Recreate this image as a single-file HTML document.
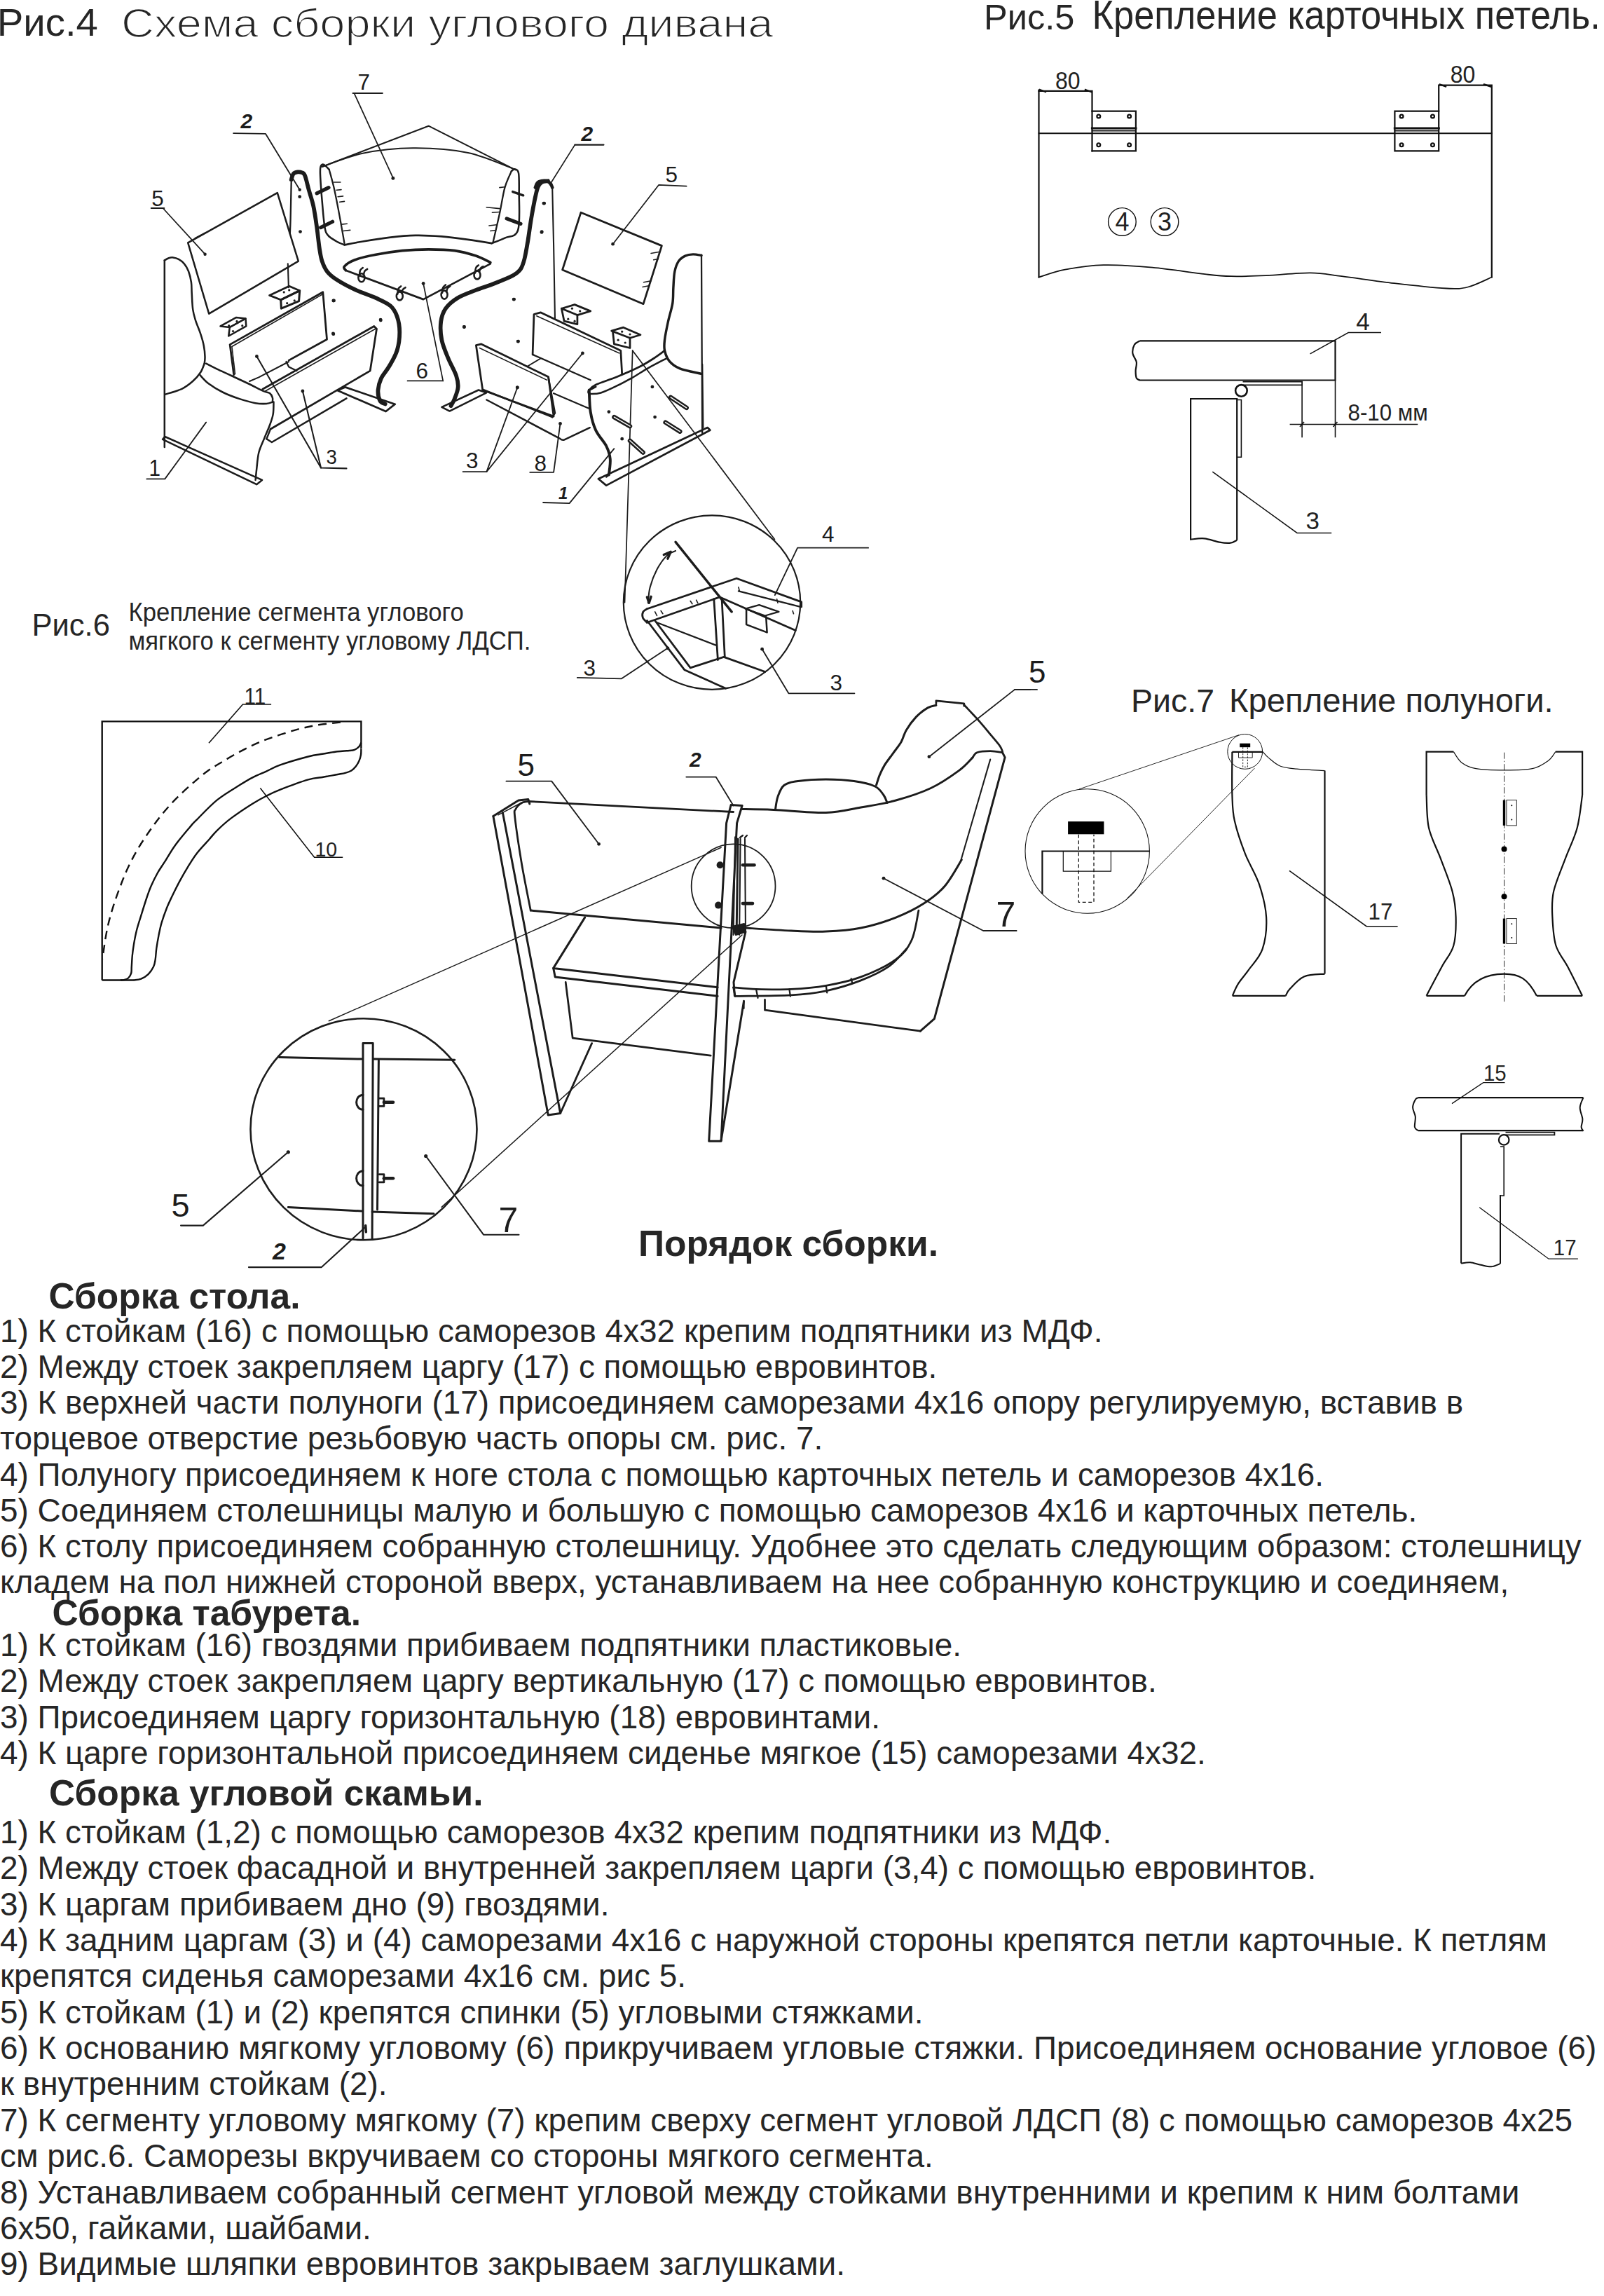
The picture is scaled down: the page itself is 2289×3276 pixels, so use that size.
<!DOCTYPE html>
<html><head><meta charset="utf-8"><style>
html,body{margin:0;padding:0;background:#fff;}
body{width:2289px;height:3276px;overflow:hidden;position:relative;}
svg{position:absolute;left:0;top:0;}
</style></head><body>
<svg width="2289" height="3276" viewBox="0 0 2289 3276" font-family='"Liberation Sans", sans-serif'>
<g fill="none" stroke="#1c1c1c" stroke-linejoin="round" stroke-linecap="round">
<path d="M234.8,371.4 V637.9" stroke-width="2.53"/>
<path d="M234.8,371.4 C235.8,370.8 238.7,368.9 240.8,368.2 C242.8,367.6 244.7,367.2 247.0,367.4 C249.4,367.7 252.3,368.4 254.9,369.8 C257.5,371.2 260.4,373.2 262.7,376.1 C265.1,378.9 267.3,382.6 269.0,387.0 C270.7,391.5 272.1,397.5 272.9,402.7 C273.7,407.9 273.3,411.9 273.7,418.4 C274.1,424.9 274.3,435.4 275.3,441.9 C276.2,448.4 277.4,451.8 279.2,457.6 C281.0,463.3 284.3,470.4 286.2,476.4 C288.2,482.4 289.9,488.2 290.9,493.7 C292.0,499.1 292.4,505.2 292.5,509.3 C292.6,513.5 291.9,517.2 291.7,518.7" stroke-width="2.53"/>
<path d="M291.7,518.7 C290.8,520.8 289.0,527.1 286.2,531.3 C283.5,535.5 279.7,539.9 275.3,543.8 C270.8,547.8 266.1,551.7 259.6,554.8 C253.0,557.9 240.0,561.3 236.1,562.6" stroke-width="2.53"/>
<path d="M294.1,518.7 C296.7,520.1 303.7,523.7 309.8,526.6 C315.8,529.5 322.3,532.3 330.1,536.0 C338.0,539.7 349.2,544.9 356.8,548.5 C364.4,552.2 370.9,555.9 375.6,557.9 C380.3,560.0 382.8,559.5 385.0,561.1 C387.2,562.6 388.3,565.3 388.9,567.4 C389.6,569.4 388.9,572.6 388.9,573.6" stroke-width="2.53"/>
<path d="M285.5,535.2 C287.4,537.2 291.9,542.9 297.2,547.0 C302.6,551.0 310.3,555.9 317.6,559.5 C324.9,563.2 333.3,566.3 341.1,568.9 C349.0,571.5 358.1,574.0 364.6,575.2 C371.2,576.4 376.3,576.2 380.3,576.0 C384.4,575.7 387.5,574.0 388.9,573.6" stroke-width="2.53"/>
<path d="M390.5,573.6 C390.4,576.5 390.6,585.4 389.7,590.9 C388.8,596.4 387.1,600.8 385.0,606.5 C382.9,612.3 379.8,618.8 377.2,625.4 C374.6,631.9 371.2,638.4 369.3,645.7 C367.5,653.1 367.0,662.7 366.2,669.3 C365.4,675.8 364.9,682.3 364.6,684.9" stroke-width="2.53"/>
<path d="M232.1,626.9 L235.3,623.0 L374.0,684.9 L366.2,691.2 Z" stroke-width="2.53"/>
<path d="M209.4,683.4 L235.3,683.4 L294.1,602.6" stroke-width="1.84"/>
<path d="M314.5,465.4 L337.2,452.9 L350.5,454.5 L327.8,467.0 Z" stroke-width="2.53"/>
<path d="M327.8,467.0 L350.5,454.5 L351.3,465.4 L326.2,479.5 Z" stroke-width="2.53"/>
</g>
<g fill="#1c1c1c">
<circle cx="326.7" cy="464.7" r="1.6"/>
<circle cx="338.0" cy="458.4" r="1.6"/>
<circle cx="332.5" cy="472.5" r="1.6"/>
<circle cx="345.8" cy="464.7" r="1.6"/>
<text transform="translate(212.5 678.7) scale(0.9 1)" font-size="33">1</text>
</g>
<g fill="none" stroke="#1c1c1c" stroke-linejoin="round" stroke-linecap="round">
<path d="M333.7,534.7 L328.1,491.6 L460.8,416.8 L466.5,484.2 L412.2,514.1" stroke-width="2.76"/>
<path d="M335.5,533.7 L330.9,494.5 L460.8,419.6" stroke-width="1.61"/>
<path d="M356.1,544.0 L369.2,538.4 L412.2,516.0" stroke-width="2.07"/>
<path d="M374.8,555.2 L533.8,465.5 L537.5,469.2 L528.2,529.1 L386.0,612.3" stroke-width="2.76"/>
<path d="M378.6,558.0 L535.7,469.2" stroke-width="1.61"/>
<path d="M380.4,626.3 L387.9,631.0 L494.5,568.3" stroke-width="2.53"/>
<path d="M386.0,612.3 L380.4,626.3" stroke-width="2.3"/>
<path d="M408.5,516.0 L412.2,523.4 L423.4,529.1" stroke-width="2.3"/>
<path d="M481.4,557.1 L550.6,587.0 L563.7,576.7 L492.6,552.4 Z" stroke-width="2.76"/>
<path d="M366.4,508.5 L458.0,667.5 L494.5,668.4" stroke-width="2.07"/>
<path d="M431.9,558.0 L458.0,667.5" stroke-width="2.07"/>
</g>
<g fill="#1c1c1c">
<circle cx="475.8" cy="429.0" r="2.4"/>
<circle cx="543.1" cy="456.1" r="2.4"/>
<circle cx="475.8" cy="476.7" r="2.4"/>
<circle cx="366.4" cy="508.5" r="2.4"/>
<circle cx="431.9" cy="558.0" r="2.4"/>
<text transform="translate(465.5 661.8) scale(0.95 1)" font-size="29">3</text>
</g>
<g fill="none" stroke="#1c1c1c" stroke-linejoin="round" stroke-linecap="round">
<path d="M503.5,133.0 L545.9,133.0" stroke-width="1.84"/>
<path d="M505.8,133.8 L560.9,253.9" stroke-width="1.72"/>
<path d="M333.1,190.1 L378.9,190.8 L427.7,270.8" stroke-width="1.84"/>
<path d="M215.7,297.0 L234.4,297.0" stroke-width="1.84"/>
<path d="M232.5,297.0 L292.6,362.7" stroke-width="1.72"/>
<path d="M268.2,346.4 L395.8,275.1 L425.8,372.6 L298.2,447.7 Z" stroke-width="2.53"/>
<path d="M278.3,339.6 L292.6,332.1" stroke-width="1.38"/>
<path d="M410.8,376.4 L411.9,410.2" stroke-width="2.07"/>
<path d="M384.5,421.4 L412.7,408.3 L427.7,414.7 L400.7,427.8 Z" stroke-width="2.76"/>
<path d="M400.7,427.8 L427.7,414.7 L426.6,429.7 L401.4,440.2 Z" stroke-width="2.99"/>
<path d="M413.8,333.6 C413.9,330.1 414.3,324.9 414.6,312.6 C414.9,300.3 415.5,268.8 415.7,260.0" stroke-width="2.3"/>
<path d="M415.7,256.3 C416.2,254.9 417.2,249.9 418.7,248.0 C420.2,246.2 422.7,245.7 424.7,245.4 C426.7,245.1 429.0,245.3 430.7,246.2 C432.5,247.0 433.5,246.5 435.2,250.7 C436.9,254.9 438.8,264.1 440.8,271.3 C442.8,278.5 445.3,285.1 447.2,293.8 C449.1,302.6 450.7,313.8 452.1,323.9 C453.5,333.9 454.6,345.7 455.8,353.9 C457.1,362.0 457.7,367.0 459.6,372.6 C461.5,378.3 463.7,383.3 467.1,387.7 C470.5,392.0 473.7,394.7 480.2,398.9 C486.8,403.2 497.1,408.8 506.5,413.2 C515.9,417.6 528.1,421.3 536.5,425.2 C545.0,429.1 552.2,432.1 557.2,436.4 C562.2,440.8 564.4,445.2 566.6,451.5 C568.8,457.7 570.3,465.8 570.3,474.0 C570.3,482.1 569.1,492.1 566.6,500.2 C564.1,508.4 559.1,516.2 555.3,522.8 C551.6,529.3 546.7,534.0 544.0,539.7 C541.4,545.3 539.9,551.2 539.5,556.5 C539.2,561.9 540.5,568.2 542.2,571.6 C543.9,574.9 548.4,575.6 549.7,576.4" stroke-width="5.75"/>
<path d="M459.6,237.9 L611.6,179.7 L735.5,242.4" stroke-width="2.07"/>
<path d="M459.6,237.9 C469.3,234.7 496.2,223.2 517.8,218.8 C539.4,214.3 564.1,211.4 589.1,211.3 C614.1,211.1 643.5,212.9 667.9,218.0 C692.3,223.1 724.2,238.0 735.5,242.0" stroke-width="2.07"/>
<path d="M491.5,349.4 C489.6,348.6 484.1,346.7 480.2,344.5 C476.4,342.2 471.0,339.3 468.2,335.9 C465.4,332.4 464.8,332.1 463.4,323.9 C461.9,315.6 460.7,298.8 459.6,286.3 C458.5,273.8 457.3,256.9 457.0,248.8 C456.7,240.7 456.8,239.8 457.7,237.5 C458.6,235.2 460.2,234.2 462.2,234.9 C464.2,235.7 468.5,240.8 469.7,242.0" stroke-width="2.53"/>
<path d="M469.7,242.0 C470.9,246.3 474.1,257.0 476.5,267.6 C478.9,278.1 481.5,291.8 484.0,305.1 C486.5,318.3 490.3,340.1 491.5,347.1" stroke-width="2.3"/>
<path d="M491.5,349.4 C495.9,348.6 507.1,346.2 517.8,344.5 C528.4,342.7 542.8,340.3 555.3,338.9 C567.8,337.4 580.3,336.1 592.8,335.9 C605.3,335.6 617.9,336.4 630.4,337.4 C642.9,338.4 656.0,340.2 667.9,341.9 C679.8,343.5 696.0,346.2 701.7,347.1" stroke-width="2.76"/>
<path d="M701.7,347.1 C704.8,345.9 714.2,342.7 720.4,339.6 C726.7,336.5 735.8,339.1 739.2,328.4 C742.6,317.6 740.6,288.6 740.7,275.1 C740.8,261.5 741.0,252.5 740.0,246.9 C739.0,241.3 736.4,241.7 734.7,241.3 C733.0,240.8 730.6,243.8 729.8,244.3" stroke-width="2.53"/>
<path d="M729.8,244.3 C728.3,248.2 723.3,257.4 720.4,267.6 C717.6,277.7 715.7,292.1 712.9,305.1 C710.1,318.1 705.1,338.9 703.6,345.6" stroke-width="2.3"/>
<path d="M452.1,275.8 L469.0,267.6" stroke-width="5.17"/>
<path d="M457.7,324.6 L474.6,316.3" stroke-width="5.17"/>
<path d="M723.1,311.8 L743.0,319.3" stroke-width="5.17"/>
<path d="M731.7,273.6 L746.7,278.8" stroke-width="3.45"/>
<path d="M476.5,260.0 L485.9,260.0" stroke-width="1.61"/>
<path d="M480.2,271.3 L487.0,270.6" stroke-width="1.61"/>
<path d="M482.1,280.7 L489.6,279.9" stroke-width="1.61"/>
<path d="M484.7,288.2 L491.5,287.4" stroke-width="1.61"/>
<path d="M487.0,320.1 L495.3,319.3" stroke-width="1.61"/>
<path d="M490.0,329.5 L499.8,328.4" stroke-width="1.61"/>
<path d="M712.9,267.6 L720.4,266.8" stroke-width="1.61"/>
<path d="M694.2,295.7 L712.9,297.6" stroke-width="1.61"/>
<path d="M702.4,303.2 L712.9,302.5" stroke-width="1.61"/>
<path d="M697.9,322.0 L708.4,320.8" stroke-width="1.61"/>
<path d="M699.8,329.5 L706.2,328.7" stroke-width="1.61"/>
<path d="M493.4,385.8 C493.1,384.8 489.3,382.6 491.5,380.1 C493.7,377.6 499.0,373.6 506.5,370.8 C514.0,367.9 525.3,365.4 536.5,363.3 C547.8,361.1 561.6,358.9 574.1,357.6 C586.6,356.4 599.1,355.8 611.6,355.8 C624.1,355.8 637.9,356.1 649.1,357.6 C660.4,359.2 670.7,362.3 679.2,365.1 C687.6,367.9 696.4,373.0 699.8,374.5" stroke-width="3.68"/>
<path d="M493.4,385.8 L604.1,427.1 L699.8,376.4" stroke-width="2.76"/>
<ellipse cx="515.9" cy="396.2" rx="4.5" ry="6" stroke-width="2.6"/>
<path d="M512.9,393.3 C513.1,392.0 513.2,387.7 514.0,385.8 C514.8,383.9 517.1,382.6 517.8,382.0" stroke-width="2.53"/>
<path d="M518.9,392.2 C519.2,391.3 519.5,388.3 520.4,386.9 C521.3,385.5 523.5,384.4 524.2,383.9" stroke-width="2.53"/>
<ellipse cx="570.3" cy="422.4" rx="4.5" ry="6" stroke-width="2.6"/>
<path d="M567.3,419.6 C567.5,418.3 567.6,413.9 568.4,412.0 C569.3,410.2 571.6,408.9 572.2,408.3" stroke-width="2.53"/>
<path d="M573.3,418.4 C573.6,417.6 573.9,414.5 574.8,413.2 C575.7,411.8 577.9,410.7 578.6,410.2" stroke-width="2.53"/>
<ellipse cx="634.1" cy="420.6" rx="4.5" ry="6" stroke-width="2.6"/>
<path d="M631.1,417.7 C631.3,416.4 631.4,412.0 632.2,410.2 C633.1,408.3 635.4,407.0 636.0,406.4" stroke-width="2.53"/>
<path d="M637.1,416.6 C637.4,415.7 637.7,412.7 638.6,411.3 C639.5,409.9 641.8,408.8 642.4,408.3" stroke-width="2.53"/>
<ellipse cx="681.0" cy="392.4" rx="4.5" ry="6" stroke-width="2.6"/>
<path d="M678.0,389.5 C678.2,388.3 678.3,383.9 679.2,382.0 C680.0,380.1 682.3,378.9 682.9,378.3" stroke-width="2.53"/>
<path d="M684.0,388.4 C684.3,387.5 684.7,384.5 685.5,383.1 C686.4,381.8 688.7,380.6 689.3,380.1" stroke-width="2.53"/>
<path d="M604.1,404.5 L632.2,543.4" stroke-width="1.72"/>
<path d="M581.6,543.4 L632.2,543.4" stroke-width="1.84"/>
<path d="M782.0,258.2 C780.5,258.5 775.4,258.5 773.0,260.0 C770.5,261.6 769.0,263.2 767.4,267.6 C765.7,271.9 764.4,278.8 762.8,286.3 C761.3,293.8 759.5,303.2 758.0,312.6 C756.4,322.0 755.0,333.2 753.5,342.6 C751.9,352.0 750.3,362.0 748.6,368.9 C746.8,375.8 745.8,379.8 743.0,383.9 C740.1,388.0 738.0,389.8 731.7,393.3 C725.4,396.7 714.2,401.1 705.4,404.5 C696.7,408.0 687.9,410.5 679.2,413.9 C670.4,417.4 660.1,420.8 652.9,425.2 C645.7,429.6 639.9,434.6 636.0,440.2 C632.1,445.8 630.2,451.5 629.2,459.0 C628.3,466.5 628.6,476.5 630.4,485.2 C632.1,494.0 636.3,503.1 639.7,511.5 C643.2,519.9 648.7,529.0 651.0,535.9 C653.3,542.8 654.1,547.2 653.6,552.8 C653.2,558.4 650.1,565.3 648.4,569.7 C646.7,574.1 644.3,577.5 643.5,579.1" stroke-width="5.75"/>
<path d="M630.4,580.9 L641.6,586.6 L694.2,560.3 L682.9,556.5 Z" stroke-width="2.53"/>
</g>
<circle cx="427.7" cy="280.7" r="2.4" fill="#1c1c1c" stroke="none"/>
<circle cx="428.5" cy="330.6" r="2.4" fill="#1c1c1c" stroke="none"/>
<circle cx="476.5" cy="428.9" r="2.4" fill="#1c1c1c" stroke="none"/>
<circle cx="543.3" cy="457.1" r="2.4" fill="#1c1c1c" stroke="none"/>
<circle cx="475.4" cy="475.8" r="2.4" fill="#1c1c1c" stroke="none"/>
<circle cx="776.7" cy="290.1" r="2.4" fill="#1c1c1c" stroke="none"/>
<circle cx="773.0" cy="331.4" r="2.4" fill="#1c1c1c" stroke="none"/>
<circle cx="733.6" cy="427.1" r="2.4" fill="#1c1c1c" stroke="none"/>
<circle cx="662.3" cy="466.5" r="2.4" fill="#1c1c1c" stroke="none"/>
<circle cx="739.2" cy="487.1" r="2.4" fill="#1c1c1c" stroke="none"/>
<circle cx="560.9" cy="254.4" r="2.4" fill="#1c1c1c" stroke="none"/>
<circle cx="604.1" cy="404.5" r="2.4" fill="#1c1c1c" stroke="none"/>
<circle cx="405.2" cy="416.9" r="1.6" fill="#1c1c1c" stroke="none"/>
<circle cx="412.7" cy="413.9" r="1.6" fill="#1c1c1c" stroke="none"/>
<circle cx="409.7" cy="432.7" r="1.6" fill="#1c1c1c" stroke="none"/>
<circle cx="420.2" cy="428.9" r="1.6" fill="#1c1c1c" stroke="none"/>
<circle cx="292.6" cy="362.7" r="2.2" fill="#1c1c1c" stroke="none"/>
<circle cx="560.9" cy="253.9" r="2.2" fill="#1c1c1c" stroke="none"/>
<circle cx="427.7" cy="270.8" r="2.2" fill="#1c1c1c" stroke="none"/>
<g fill="#1c1c1c">
<text x="510.5" y="128.1" font-size="31.5">7</text>
<text x="216.3" y="293.8" font-size="31.5">5</text>
<text x="593.5" y="539.6" font-size="31.5">6</text>
<text x="343.5" y="183.4" font-size="30" font-style="italic" font-weight="bold">2</text>
</g>
<g fill="none" stroke="#1c1c1c" stroke-linejoin="round" stroke-linecap="round">
<path d="M763.9,267.6 C764.4,266.4 765.5,262.4 766.9,260.8 C768.2,259.2 770.0,258.6 772.1,258.2 C774.2,257.7 777.4,257.5 779.6,258.2 C781.9,258.8 784.2,260.4 785.6,261.9 C787.1,263.5 787.8,266.6 788.2,267.6" stroke-width="4.6"/>
<path d="M788.2,267.6 L790.1,350.1 L792.0,455.2" stroke-width="2.07"/>
<path d="M820.4,206.6 H861.5" stroke-width="2.07"/>
<path d="M820.4,206.6 L784.5,263.7" stroke-width="1.72"/>
<path d="M829,303.2 L944.4,350.6 L918.1,433.7 L802.6,385 Z" stroke-width="2.76"/>
<path d="M874.6,348.2 L940.2,263.8 L979.7,265.7" stroke-width="1.72"/>
<path d="M929.0,361.4 L940.2,359.5" stroke-width="1.49"/>
<path d="M932.7,370.8 L939.5,369.6" stroke-width="1.49"/>
<path d="M918.5,402.7 L929.0,400.8" stroke-width="1.49"/>
<path d="M917.0,409.4 L927.1,407.5" stroke-width="1.49"/>
<path d="M1001.0,364.4 C999.0,364.1 992.9,362.8 989.0,362.9 C985.2,363.0 981.2,363.5 977.8,365.1 C974.3,366.8 970.9,368.9 968.4,372.6 C965.9,376.4 964.0,381.4 962.8,387.7 C961.5,393.9 961.4,402.7 960.9,410.2 C960.4,417.7 961.0,424.6 959.8,432.7 C958.5,440.8 955.3,450.2 953.4,459.0 C951.5,467.7 949.3,478.4 948.5,485.2 C947.7,492.1 947.4,495.2 948.5,500.2 C949.6,505.2 951.6,511.0 955.3,515.3 C958.9,519.5 962.8,522.8 970.3,525.8 C977.8,528.8 995.3,532.0 1000.3,533.3" stroke-width="3.45"/>
<path d="M1001.0,363.6 L1002.2,620.0" stroke-width="2.3"/>
<path d="M840.8,556.5 C842.4,555.3 843.6,552.2 850.2,549.0 C856.7,545.9 870.2,541.8 880.2,537.8 C890.2,533.7 901.5,529.0 910.2,524.6 C919.0,520.3 926.4,515.6 932.7,511.5 C939.1,507.4 945.9,502.1 948.5,500.2" stroke-width="2.76"/>
<path d="M801.4,440.2 L820.1,434.6 L842.7,443.9 L823.9,449.6 Z" stroke-width="2.76"/>
<path d="M801.4,440.2 L805.1,458.2 L823.9,462.7 L823.9,449.6" stroke-width="2.76"/>
<path d="M872.7,472.1 L889.6,467.2 L914.0,477.7 L899.0,482.2 Z" stroke-width="2.76"/>
<path d="M874.6,474.0 L876.4,490.9 L899.0,496.5 L899.0,482.2" stroke-width="2.76"/>
<path d="M760.1,505.9 L762.0,448.5 L771.4,445.8 L885.8,500.2 L887.7,534.0" stroke-width="2.76"/>
<path d="M765.7,450.7 L883.9,504.0" stroke-width="1.49"/>
<path d="M760.1,505.9 L842.7,542.3" stroke-width="2.3"/>
<path d="M688.8,556.5 L679.4,492.7 L686.9,490.9 L782.6,537.8 L790.1,594.1 L688.8,556.5" stroke-width="2.76"/>
<path d="M684.3,496.5 L780.7,542.3" stroke-width="1.49"/>
<path d="M752.6,522.8 L771.4,511.5" stroke-width="1.84"/>
<path d="M694.4,570.5 L799.2,625.9 Q802,628.5 805,627.6 L841.8,610.2" stroke-width="2.53"/>
<path d="M902.7,500.2 L891.5,859.7" stroke-width="1.72"/>
<path d="M902.7,500.2 L1105.4,769.6" stroke-width="1.72"/>
</g>
<circle cx="874.6" cy="348.2" r="2.4" fill="#1c1c1c" stroke="none"/>
<circle cx="738.3" cy="552.8" r="2.4" fill="#1c1c1c" stroke="none"/>
<circle cx="831.4" cy="504.0" r="2.4" fill="#1c1c1c" stroke="none"/>
<circle cx="775.9" cy="290.1" r="2.4" fill="#1c1c1c" stroke="none"/>
<circle cx="773.2" cy="330.6" r="2.4" fill="#1c1c1c" stroke="none"/>
<circle cx="733.1" cy="427.1" r="2.4" fill="#1c1c1c" stroke="none"/>
<circle cx="662.5" cy="466.5" r="2.4" fill="#1c1c1c" stroke="none"/>
<circle cx="739.5" cy="487.1" r="2.4" fill="#1c1c1c" stroke="none"/>
<circle cx="816.4" cy="440.2" r="1.6" fill="#1c1c1c" stroke="none"/>
<circle cx="827.7" cy="443.9" r="1.6" fill="#1c1c1c" stroke="none"/>
<circle cx="810.8" cy="455.2" r="1.6" fill="#1c1c1c" stroke="none"/>
<circle cx="820.1" cy="458.2" r="1.6" fill="#1c1c1c" stroke="none"/>
<circle cx="887.7" cy="473.2" r="1.6" fill="#1c1c1c" stroke="none"/>
<circle cx="899.0" cy="477.0" r="1.6" fill="#1c1c1c" stroke="none"/>
<circle cx="882.1" cy="485.2" r="1.6" fill="#1c1c1c" stroke="none"/>
<circle cx="892.2" cy="489.0" r="1.6" fill="#1c1c1c" stroke="none"/>
<g fill="#1c1c1c">
<text x="949.5" y="260" font-size="31.5">5</text>
<text x="829.5" y="200.9" font-size="30" font-style="italic" font-weight="bold">2</text>
</g>
<g fill="none" stroke="#1c1c1c" stroke-linejoin="round" stroke-linecap="round">
<path d="M840.8,557.5 C841.1,562.5 841.1,578.2 842.7,587.6 C844.2,596.9 846.4,605.7 850.2,613.8 C853.9,622.0 861.7,629.5 865.2,636.3 C868.6,643.2 870.2,648.2 870.8,655.1 C871.4,662.0 869.2,673.9 868.9,677.6" stroke-width="3.91"/>
<path d="M840.8,556.8 L850.2,551.9" stroke-width="2.76"/>
<path d="M840.2,556.0 C840.1,556.7 839.1,559.0 839.5,560.0 C839.9,561.0 839.4,561.9 842.4,562.0 C845.4,562.1 851.1,562.4 857.4,560.5 C863.6,558.6 872.4,554.3 879.9,550.7 C887.4,547.1 894.8,543.0 902.3,538.8 C909.8,534.6 916.7,529.8 924.7,525.3 C932.7,520.8 946.0,514.0 950.2,511.8" stroke-width="2.53"/>
<path d="M853.9,683.3 L865.2,692.6 L1013.4,613.8 L1009.7,610.1 Z" stroke-width="2.76"/>
<path d="M1002.2,520.0 L1003.3,610.1" stroke-width="2.3"/>
<path d="M868.9,677.6 L865.2,680.6" stroke-width="2.3"/>
<path d="M688.8,555.7 L788.2,595.1" stroke-width="2.53"/>
<path d="M788.2,595.1 L792.0,589.4 L782.6,538.8" stroke-width="2.53"/>
<path d="M790.1,561.3 L842.7,583.8" stroke-width="2.3"/>
<path d="M756.3,673.9 L790.1,673.9 L799.5,604.4" stroke-width="1.84"/>
<path d="M660.6,673.1 H694.4 L738.3,553" stroke-width="1.84"/>
<path d="M694.4,673.1 L831.4,504" stroke-width="1.72"/>
<path d="M775.1,717.0 L812.6,718.2 L876.4,640.1" stroke-width="1.84"/>
<path d="M957.1,566.9 L979.7,581.9" stroke-width="6.44"/>
<path d="M957.1,566.9 L979.7,581.9" stroke-width="1.4" stroke="#fff"/>
<path d="M876.4,595.1 L899.0,608.2" stroke-width="6.44"/>
<path d="M876.4,595.1 L899.0,608.2" stroke-width="1.4" stroke="#fff"/>
<path d="M949.6,602.6 L970.3,615.7" stroke-width="6.44"/>
<path d="M949.6,602.6 L970.3,615.7" stroke-width="1.4" stroke="#fff"/>
<path d="M899.0,628.8 L917.7,645.7" stroke-width="6.44"/>
<path d="M899.0,628.8 L917.7,645.7" stroke-width="1.4" stroke="#fff"/>
</g>
<circle cx="738.3" cy="553.0" r="2.4" fill="#1c1c1c" stroke="none"/>
<circle cx="799.5" cy="604.4" r="2.4" fill="#1c1c1c" stroke="none"/>
<circle cx="930.9" cy="551.9" r="2.4" fill="#1c1c1c" stroke="none"/>
<circle cx="868.9" cy="587.6" r="2.4" fill="#1c1c1c" stroke="none"/>
<circle cx="887.7" cy="626.2" r="2.4" fill="#1c1c1c" stroke="none"/>
<circle cx="934.6" cy="595.1" r="2.4" fill="#1c1c1c" stroke="none"/>
<g fill="#1c1c1c">
<text x="762.5" y="672" font-size="31.5">8</text>
<text x="665" y="668.2" font-size="31.5">3</text>
<text x="797" y="712" font-size="24" font-style="italic" font-weight="bold">1</text>
</g>
<g fill="none" stroke="#1c1c1c" stroke-linejoin="round" stroke-linecap="round">
<ellipse cx="1016" cy="859.6" rx="126.2" ry="124.2" stroke-width="2.2"/>
<path d="M924.8,860.3 C925.3,856.5 925.5,845.8 927.7,837.8 C929.8,829.9 933.5,820.1 937.5,812.6 C941.4,805.1 947.1,797.4 951.5,792.9 C955.9,788.5 962.0,787.1 964.1,785.9" stroke-width="2.07"/>
<path d="M964.1,773.3 L1044.1,872.9" stroke-width="3.45"/>
<path d="M923.4,888.3 C922.4,887.2 918.2,883.9 917.3,881.3 C916.3,878.7 916.8,875.0 917.8,872.9 C918.9,870.8 922.5,869.4 923.4,868.7" stroke-width="2.76"/>
<path d="M923.4,868.7 L1051.1,825.2 L1143.7,858.9 L1143.7,865.9" stroke-width="2.76"/>
<path d="M923.4,888.3 L1027.2,851.9 L1135.3,899.6" stroke-width="2.76"/>
<path d="M1053.9,843.4 L1142.3,865.9" stroke-width="2.3"/>
<path d="M1018.8,854.7 L1024.4,941.6" stroke-width="2.76"/>
<path d="M1030.1,854.7 L1034.3,937.4" stroke-width="2.76"/>
<path d="M923.4,885.5 L976.7,955.7 L1035.7,982.3" stroke-width="2.76"/>
<path d="M934.7,885.5 L985.2,952.9 L1032.9,937.4 L1091.8,958.5" stroke-width="2.76"/>
<path d="M937.5,888.3 L1021.6,920.6" stroke-width="2.3"/>
<path d="M1063.7,868.7 L1083.4,863.1 L1111.4,872.9 L1091.8,878.5 Z" stroke-width="2.3"/>
<path d="M1065.1,870.1 L1065.1,891.1 L1094.6,902.4 L1093.2,879.9" stroke-width="2.53"/>
<path d="M934.7,872.9 L937.5,878.5" stroke-width="1.61"/>
<path d="M943.1,871.5 L945.9,875.7" stroke-width="1.61"/>
<path d="M985.2,857.5 L988.0,861.7" stroke-width="1.61"/>
<path d="M993.6,856.1 L995.8,860.3" stroke-width="1.61"/>
<path d="M1053.9,837.8 L1055.3,843.4" stroke-width="1.61"/>
<path d="M1108.6,854.7 L1110.0,860.3" stroke-width="1.61"/>
<path d="M1131.1,871.5 L1132.5,875.7" stroke-width="1.61"/>
<path d="M923.4,851.9 L926.2,860.3 L929.1,851.3" stroke-width="3.45"/>
<path d="M947.3,791.5 L957.1,787.3 L952.9,797.2" stroke-width="3.45"/>
<path d="M823.8,966.9 L887.0,968.3 L952.9,924.8" stroke-width="1.84"/>
<path d="M1219.4,989.3 L1125.4,989.3 L1087.6,926.2" stroke-width="1.84"/>
<path d="M1239.1,781.7 L1138.1,781.7 L1105.8,849.1" stroke-width="1.84"/>
</g>
<circle cx="1087.6" cy="926.2" r="2.4" fill="#1c1c1c" stroke="none"/>
<circle cx="952.9" cy="924.8" r="2.4" fill="#1c1c1c" stroke="none"/>
<g fill="#1c1c1c">
<text x="832.5" y="964.1" font-size="31.5">3</text>
<text x="1184.5" y="985.1" font-size="31.5">3</text>
<text x="1173" y="773.3" font-size="31.5">4</text>
</g>
<g fill="none" stroke="#111" stroke-linecap="square">
<path d="M1482.5,128.6 V395.5" stroke-width="2.2"/>
<path d="M1482.5,129.9 H1558.5 V215.4" stroke-width="2.2"/>
<path d="M1558.5,158.6 H1620.9 V215.4 H1558.5" stroke-width="2.2"/>
<path d="M1558.5,183 H1620.9" stroke-width="3.2"/>
<path d="M1558.5,186.6 H1620.9" stroke-width="1.6"/>
<path d="M1482.5,190.2 H2128.8" stroke-width="2.0"/>
<path d="M1990.4,158.6 H2053.2 V215.4 H1990.4 Z" stroke-width="2.2"/>
<path d="M1990.4,183 H2053.2" stroke-width="3.2"/>
<path d="M1990.4,186.6 H2053.2" stroke-width="1.6"/>
<path d="M2053.2,158.6 V121.6 H2128.8 V395.5" stroke-width="2.2"/>
<path d="M1484,128 L1492,131 M1549,128 L1557,131 M2055,120.5 L2063,123.5 M2118,120.5 L2127,123.5" stroke-width="2.4"/>
<path d="M1482.5,395.5 C1488.7,393.7 1504.5,387.6 1519.9,384.7 C1535.3,381.8 1553.9,378.7 1574.7,378.2 C1595.5,377.7 1620.5,379.5 1644.6,381.7 C1668.7,383.9 1700.7,389.1 1719.4,391.2 C1738.1,393.3 1742.2,393.9 1756.8,394.2 C1771.3,394.5 1787.8,394.0 1806.7,393.2 C1825.6,392.4 1852.0,389.2 1870.0,389.4 C1888.0,389.6 1894.9,391.7 1914.8,394.2 C1934.7,396.7 1964.7,401.3 1989.6,404.2 C2014.5,407.1 2046.8,410.6 2064.4,411.5 C2082.0,412.4 2084.3,412.2 2095.0,409.5 C2105.7,406.8 2123.2,397.8 2128.8,395.5" stroke-width="1.8"/>
<circle cx="1567.8" cy="166" r="2.4" stroke-width="2.3"/>
<circle cx="1567.8" cy="206.7" r="2.4" stroke-width="2.3"/>
<circle cx="1611.6" cy="166" r="2.4" stroke-width="2.3"/>
<circle cx="1611.6" cy="206.7" r="2.4" stroke-width="2.3"/>
<circle cx="2000.1" cy="166" r="2.4" stroke-width="2.3"/>
<circle cx="2000.1" cy="206.7" r="2.4" stroke-width="2.3"/>
<circle cx="2044.5" cy="166" r="2.4" stroke-width="2.3"/>
<circle cx="2044.5" cy="206.7" r="2.4" stroke-width="2.3"/>
<circle cx="1601.4" cy="316.4" r="19.8" stroke-width="1.4"/>
<circle cx="1662" cy="316.4" r="19.8" stroke-width="1.4"/>
</g>
<g fill="#222" stroke="none">
<text transform="translate(1506 126.9) scale(0.9 1)" font-size="35.5">80</text>
<text transform="translate(2069.8 117.9) scale(0.9 1)" font-size="35.5">80</text>
<text x="1601.4" y="329.2" font-size="36" text-anchor="middle">4</text>
<text x="1662" y="329.2" font-size="36" text-anchor="middle">3</text>
</g>
<g fill="none" stroke="#111">
<path d="M1626.5,486.4 H1905.5 V542.5 H1626.5  C1625.7,542.0 1622.8,541.7 1621.8,539.5 C1620.8,537.3 1620.6,532.9 1620.6,529.1 C1620.6,525.3 1622.5,520.8 1621.8,516.6 C1621.1,512.5 1616.9,508.4 1616.4,504.2 C1615.9,500.0 1617.2,494.7 1618.9,491.7 C1620.6,488.7 1625.2,487.3 1626.5,486.4" stroke-width="2.2"/>
<path d="M1905.5,542.5 V624.2" stroke-width="1.6"/>
<path d="M1773.5,544.7 H1858.1 V549.4 H1773.5" stroke-width="1.8"/>
<circle cx="1771.4" cy="557.4" r="8.3" stroke-width="2.6"/>
<path d="M1858.1,549.4 V624.2" stroke-width="1.6"/>
<path d="M1840.6,605.5 H2023.3" stroke-width="1.6"/>
<path d="M1855,609 L1861,602 M1902.5,609 L1908.5,602" stroke-width="1.6"/>
<path d="M1765.2,770.7 V569 H1699.1 V769.7  C1702.3,769.5 1711.6,767.6 1718.5,768.3 C1725.4,768.9 1734.1,772.5 1740.3,773.6 C1746.5,774.7 1751.8,775.2 1755.9,774.7 C1760.1,774.2 1763.7,771.4 1765.2,770.7" stroke-width="2.2"/>
<path d="M1765.2,570.5 H1771.4 V652.2 H1765.2" stroke-width="1.6"/>
<path d="M1971,474.6 H1924.2 L1869.6,504.8" stroke-width="1.5"/>
<path d="M1900.2,760.4 H1851 L1730.3,673.1" stroke-width="1.5"/>
</g>
<g fill="#222">
<text transform="translate(1923.5 600.2) scale(0.92 1)" font-size="34">8-10 мм</text>
<text x="1935.2" y="471.4" font-size="35">4</text>
<text x="1863.4" y="755.1" font-size="35">3</text>
</g>
<g fill="none" stroke="#111">
<path d="M145.7,1398.5 V1029.4 H515.4 V1068" stroke-width="2.4"/>
<path d="M145.7,1398.5 H191" stroke-width="2.6"/>
<path d="M515.4,1059.6 C514.9,1060.5 513.6,1063.8 512.4,1065.3 C511.2,1066.8 509.5,1067.9 508.0,1068.8 C506.5,1069.7 505.8,1070.1 503.6,1070.5 C501.4,1070.9 498.5,1070.9 494.9,1071.2 C491.3,1071.5 486.2,1071.8 481.8,1072.3 C477.4,1072.8 472.3,1073.7 468.7,1074.3 C465.1,1074.9 464.8,1074.9 460.0,1075.8 C455.2,1076.7 449.9,1076.9 439.9,1079.5 C429.9,1082.1 410.0,1087.9 400.0,1091.4 C390.0,1094.9 386.7,1097.6 380.0,1100.6 C373.3,1103.6 366.3,1106.4 360.0,1109.6 C353.7,1112.8 350.7,1114.7 342.3,1120.0 C333.9,1125.3 320.3,1133.0 309.9,1141.4 C299.5,1149.8 286.5,1164.0 280.0,1170.4 C273.5,1176.8 276.1,1174.0 271.1,1180.0 C266.1,1186.0 255.9,1197.9 249.9,1206.2 C243.9,1214.5 239.1,1223.4 234.9,1229.9 C230.7,1236.5 228.1,1239.8 224.9,1245.5 C221.7,1251.2 218.1,1258.5 215.6,1264.2 C213.1,1270.0 212.1,1273.0 209.7,1280.0 C207.3,1287.0 203.8,1298.3 201.4,1306.1 C199.0,1313.9 196.8,1320.0 195.1,1327.0 C193.3,1334.0 191.9,1341.8 190.9,1347.9 C189.9,1354.0 189.3,1358.4 188.8,1363.6 C188.3,1368.8 188.1,1375.1 187.8,1379.3 C187.5,1383.5 188.0,1386.0 187.2,1388.7 C186.4,1391.4 184.8,1393.9 183.1,1395.5 C181.4,1397.1 179.2,1397.6 177.3,1398.1 C175.5,1398.6 172.9,1398.4 172.0,1398.5" stroke-width="2.4"/>
<path d="M515.4,1068.4 C515.3,1069.9 515.5,1074.2 515.0,1077.1 C514.5,1080.0 513.6,1083.1 512.4,1085.8 C511.2,1088.5 509.8,1090.9 508.0,1093.2 C506.2,1095.5 504.1,1097.8 501.5,1099.4 C498.9,1101.0 496.0,1101.9 492.7,1102.8 C489.4,1103.7 485.8,1104.2 481.8,1105.0 C477.8,1105.8 472.3,1106.7 468.7,1107.4 C465.1,1108.1 464.8,1108.2 460.0,1109.0 C455.2,1109.8 449.9,1109.5 439.9,1112.4 C429.9,1115.3 410.0,1122.7 400.0,1126.6 C390.0,1130.5 386.7,1132.3 380.0,1135.7 C373.3,1139.1 368.4,1141.6 360.0,1146.9 C351.6,1152.2 338.2,1161.1 329.9,1167.4 C321.5,1173.7 315.1,1179.8 309.9,1184.8 C304.7,1189.8 303.3,1192.3 298.5,1197.7 C293.7,1203.1 286.0,1211.0 281.0,1217.4 C276.0,1223.8 272.8,1229.3 268.6,1236.1 C264.5,1242.8 260.0,1250.6 256.1,1257.9 C252.2,1265.2 248.0,1273.7 245.0,1280.0 C242.0,1286.3 240.3,1289.6 237.9,1295.7 C235.5,1301.8 232.5,1310.1 230.6,1316.6 C228.7,1323.1 227.6,1328.8 226.4,1334.9 C225.2,1341.0 224.1,1347.5 223.3,1353.2 C222.5,1358.9 222.4,1364.6 221.7,1368.9 C221.0,1373.2 220.8,1375.8 219.1,1379.3 C217.4,1382.8 214.8,1386.9 211.8,1389.8 C208.9,1392.7 204.9,1395.1 201.4,1396.6 C197.9,1398.0 192.7,1398.2 190.9,1398.5" stroke-width="2.4"/>
<path d="M485.9,1030.6 C480.7,1031.2 464.5,1032.7 454.7,1034.3 C444.9,1035.9 436.6,1037.6 427.3,1040.0 C418.0,1042.4 408.0,1045.6 398.6,1048.7 C389.2,1051.8 380.0,1055.0 371.1,1058.7 C362.2,1062.4 353.7,1066.6 345.0,1071.1 C336.3,1075.6 327.3,1080.9 319.0,1085.9 C310.7,1090.9 302.8,1095.3 295.0,1101.0 C287.2,1106.7 279.8,1113.3 272.2,1120.0 C264.6,1126.7 256.8,1133.9 249.7,1141.2 C242.6,1148.5 236.0,1155.9 229.8,1163.6 C223.6,1171.3 217.9,1179.2 212.3,1187.3 C206.7,1195.4 201.1,1203.8 196.1,1212.3 C191.1,1220.8 186.6,1229.6 182.4,1238.5 C178.2,1247.4 174.7,1256.6 171.2,1265.9 C167.7,1275.2 164.1,1285.2 161.2,1294.6 C158.3,1303.9 155.8,1312.7 153.7,1322.0 C151.6,1331.3 149.9,1343.0 148.7,1350.7 C147.5,1358.4 146.9,1365.1 146.5,1368.0" stroke-width="2.4" stroke-dasharray="12,8"/>
<path d="M387.1,1005 H346.5 L298,1060.3" stroke-width="1.6"/>
<path d="M489.2,1223.2 H448.6 L371.4,1124.4" stroke-width="1.6"/>
</g>
<g fill="#222">
<text transform="translate(348.5 1004.5) scale(0.9 1)" font-size="33">11</text>
<text transform="translate(449.5 1221.8) scale(0.95 1)" font-size="30">10</text>
</g>
<g fill="none" stroke="#111">
<circle cx="1551.7" cy="1214.5" r="88.7" stroke-width="1.1"/>
<rect x="1524.1" y="1172.1" width="51.3" height="18.2" fill="#000" stroke="none"/>
<path d="M1539.3,1190.8 V1287.4 H1561 V1190.8" stroke-width="1.3" stroke-dasharray="5,3.5"/>
<path d="M1487.4,1275.6 V1214.5 H1640.5" stroke-width="2.2"/>
<path d="M1517.3,1214.5 V1243.2 H1585.4 V1214.5" stroke-width="1.2"/>
<circle cx="1776.7" cy="1072.4" r="24.9" stroke-width="1.0"/>
<rect x="1769.2" y="1060.7" width="15" height="5.5" fill="#000" stroke="none"/>
<path d="M1767.5,1072.9 V1081.1 H1787.2 V1072.9" stroke-width="0.9"/>
<path d="M1773.7,1066.2 V1094.3 H1780.4 V1066.2" stroke-width="0.9" stroke-dasharray="2.5,1.8"/>
<path d="M1539.8,1126 L1768,1048.7" stroke-width="0.9"/>
<path d="M1608.4,1281.9 L1790.4,1096.1" stroke-width="0.9"/>
<path d="M1758.4,1072.7 C1758.4,1083.0 1757.8,1117.8 1758.4,1134.2 C1759.0,1150.6 1758.7,1157.1 1761.8,1171.1 C1764.9,1185.1 1771.0,1203.1 1776.9,1218.2 C1782.8,1233.3 1792.0,1246.8 1797.0,1261.9 C1802.0,1277.0 1806.3,1293.5 1807.1,1308.9 C1807.9,1324.3 1805.8,1341.7 1801.6,1354.2 C1797.4,1366.7 1787.5,1375.8 1781.7,1384.1 C1775.9,1392.4 1770.5,1398.0 1766.7,1404.1 C1762.9,1410.2 1760.1,1418.0 1758.8,1420.8" stroke-width="2.2"/>
<path d="M1758.8,1420.8 H1834.7" stroke-width="2.2"/>
<path d="M1834.7,1420.8 C1835.7,1419.2 1836.3,1415.7 1840.7,1411.1 C1845.1,1406.5 1852.6,1397.0 1860.9,1393.4 C1869.2,1389.8 1885.6,1390.2 1890.5,1389.6" stroke-width="2.2"/>
<path d="M1890.5,1389.6 V1099.6" stroke-width="2.2"/>
<path d="M1758.4,1072.9 H1802.1" stroke-width="2.2"/>
<path d="M1802.1,1072.7 C1803.5,1074.2 1806.3,1078.0 1810.5,1081.4 C1814.7,1084.8 1820.6,1090.7 1827.3,1093.3 C1834.0,1095.9 1840.3,1096.2 1850.8,1097.2 C1861.3,1098.2 1883.9,1099.2 1890.5,1099.6" stroke-width="1.2"/>
<path d="M1994.6,1321.7 H1950 L1840,1242.4" stroke-width="1.6"/>
<path d="M2035.6,1134.2 V1072.7 H2074.3" stroke-width="2.2"/>
<path d="M2219.8,1072.7 H2258.1 V1134.2" stroke-width="2.2"/>
<path d="M2074.3,1072.7 C2076.2,1075.3 2080.7,1084.3 2086.0,1088.3 C2091.3,1092.3 2096.1,1094.9 2106.2,1096.7 C2116.3,1098.5 2133.1,1098.9 2146.5,1098.9 C2159.9,1098.9 2176.3,1099.0 2186.8,1096.7 C2197.3,1094.5 2203.9,1089.4 2209.4,1085.4 C2214.9,1081.4 2218.1,1074.8 2219.8,1072.7" stroke-width="1.2"/>
<path d="M2258.1,1134.2 C2256.9,1142.0 2254.7,1166.1 2250.7,1181.2 C2246.7,1196.3 2239.5,1209.8 2233.9,1224.9 C2228.3,1240.0 2220.2,1258.0 2217.1,1272.0 C2214.0,1286.0 2214.8,1296.0 2215.4,1308.9 C2216.0,1321.8 2216.8,1337.4 2220.4,1349.2 C2224.1,1361.0 2231.0,1367.6 2237.3,1379.5 C2243.6,1391.4 2254.6,1413.9 2258.1,1420.8" stroke-width="2.2"/>
<path d="M2035.6,1134.2 C2036.2,1142.0 2035.6,1166.1 2039.0,1181.2 C2042.4,1196.3 2050.2,1209.8 2055.8,1224.9 C2061.4,1240.0 2069.0,1258.0 2072.6,1272.0 C2076.2,1286.0 2077.3,1296.0 2077.6,1308.9 C2077.9,1321.8 2077.7,1337.4 2074.3,1349.2 C2071.0,1361.0 2063.9,1367.6 2057.5,1379.5 C2051.1,1391.4 2039.2,1413.9 2035.6,1420.8" stroke-width="2.2"/>
<path d="M2035.6,1420.8 H2090.1 M2192.9,1420.8 H2258.1" stroke-width="2.2"/>
<path d="M2090.1,1420.8 C2103,1396 2125,1389.6 2146.5,1389.6 C2168,1389.6 2180,1396 2192.9,1420.8" stroke-width="2.2"/>
<path d="M2146.5,1073.7 V1431.6" stroke-width="0.9" stroke-dasharray="9,3,1.5,3"/>
<rect x="2149.9" y="1141.6" width="14.4" height="36.3" stroke-width="0.9" fill="#fff"/>
<rect x="2144.8" y="1141.6" width="3.4" height="36.3" fill="#000" stroke="none"/>
<circle cx="2157.3" cy="1149.3" r="1" fill="#000" stroke="none"/>
<circle cx="2157.3" cy="1169.5" r="1" fill="#000" stroke="none"/>
<rect x="2149.9" y="1310.6" width="14.4" height="35.9" stroke-width="0.9" fill="#fff"/>
<rect x="2144.8" y="1310.6" width="3.4" height="35.9" fill="#000" stroke="none"/>
<circle cx="2157.3" cy="1318.3" r="1" fill="#000" stroke="none"/>
<circle cx="2157.3" cy="1338.1" r="1" fill="#000" stroke="none"/>
<circle cx="2146.5" cy="1211.5" r="4" fill="#000" stroke="none"/>
<circle cx="2146.5" cy="1279.3" r="4" fill="#000" stroke="none"/>
<path d="M2023.6,1566.2 H2259.4" stroke-width="2.2"/>
<path d="M2023.6,1613.2 H2259.4" stroke-width="2.2"/>
<path d="M2023.6,1613.2 C2022.8,1612.3 2019.5,1611.4 2018.9,1608.1 C2018.3,1604.8 2020.3,1597.8 2019.8,1593.2 C2019.3,1588.6 2016.1,1584.2 2016.1,1580.2 C2016.1,1576.2 2018.5,1571.3 2019.8,1569.0 C2021.0,1566.7 2023.0,1566.7 2023.6,1566.2" stroke-width="2.0"/>
<path d="M2259.4,1566.2 C2258.6,1568.5 2254.9,1575.1 2254.7,1580.2 C2254.5,1585.3 2258.1,1592.2 2258.4,1596.9 C2258.7,1601.6 2256.4,1605.3 2256.6,1608.1 C2256.8,1610.9 2258.9,1612.8 2259.4,1613.7" stroke-width="2.0"/>
<path d="M2148.5,1615.6 H2218.4 V1619.3 H2148.5" stroke-width="1.8"/>
<circle cx="2146.2" cy="1626.4" r="7.3" stroke-width="2.2"/>
<path d="M2141,1705 V1803" stroke-width="2.0"/>
<path d="M2085.1,1802.5 V1617.8 H2140" stroke-width="2.0"/>
<path d="M2085.1,1802.5 C2087.3,1802.3 2093.4,1800.9 2098.1,1801.3 C2102.8,1801.7 2108.0,1803.8 2113.0,1804.8 C2118.0,1805.8 2123.3,1807.6 2128.0,1807.3 C2132.7,1807.0 2138.8,1803.7 2141.0,1803.0" stroke-width="2.0"/>
<path d="M2141,1636 H2146.2 V1706 H2141" stroke-width="1.6"/>
<path d="M2147.5,1544.7 H2116.8 L2072,1574.6" stroke-width="1.3"/>
<path d="M2251.9,1796.2 H2210 L2111.2,1722.8" stroke-width="1.3"/>
</g>
<g fill="#222">
<text transform="translate(1952.5 1312.3) scale(0.95 1)" font-size="33">17</text>
<text transform="translate(2117 1541.9) scale(0.95 1)" font-size="31">15</text>
<text transform="translate(2216.8 1790.8) scale(0.95 1)" font-size="31">17</text>
</g>
<g fill="none" stroke="#1c1c1c" stroke-linejoin="round" stroke-linecap="round">
<path d="M703.9,1164.4 L782.2,1590.9 L799.7,1588.4 L717.4,1159.5" stroke-width="2.99"/>
<path d="M703.9,1164.4 L739.9,1142.0 L753.8,1140.5 L755.8,1147.0" stroke-width="2.99"/>
<path d="M710.9,1162.9 L743.8,1145.5" stroke-width="1.49"/>
<path d="M754.8,1143.5 C753.2,1143.8 748.0,1143.7 744.8,1145.5 C741.7,1147.3 737.5,1150.9 735.9,1154.5 C734.2,1158.0 733.4,1153.6 734.9,1166.9 C736.4,1180.2 741.1,1212.2 744.8,1234.3 C748.6,1256.3 755.2,1288.3 757.3,1299.1" stroke-width="2.76"/>
<path d="M754.8,1143.5 L1046.6,1158.5" stroke-width="2.76"/>
<path d="M757.3,1299.1 L1029.1,1324.0" stroke-width="2.99"/>
<path d="M834.6,1309.1 L789.7,1381.4 L1024.1,1408.8" stroke-width="2.99"/>
<path d="M789.7,1381.4 L792.2,1393.9 L1024.1,1421.3" stroke-width="2.99"/>
<path d="M807.2,1401.3 L817.2,1481.1 L1014.2,1506.1" stroke-width="2.76"/>
<path d="M844.6,1488.6 L799.7,1588.4" stroke-width="2.76"/>
<path d="M1043.1,1148.5 L1036.6,1174.4 L1011.7,1628.3 L1029.1,1628.3 L1051.6,1174.4 L1059.1,1149.5 L1043.1,1148.5" stroke-width="2.99"/>
<path d="M1061.5,1428.8 L1029.1,1627.3" stroke-width="2.99"/>
<path d="M1049.1,1194.4 L1046.6,1334.0" stroke-width="2.07"/>
<path d="M1056.6,1196.9 L1055.1,1334.0" stroke-width="2.07"/>
<path d="M1063.0,1196.9 L1064.0,1331.5" stroke-width="2.07"/>
<path d="M1059.1,1154.5 C1066.5,1154.6 1084.0,1154.6 1103.9,1155.5 C1123.9,1156.3 1158.0,1160.0 1178.8,1159.5 C1199.5,1158.9 1212.0,1154.9 1228.6,1152.0 C1245.3,1149.1 1261.9,1146.6 1278.5,1142.0 C1295.1,1137.4 1313.4,1131.6 1328.4,1124.5 C1343.3,1117.5 1358.3,1106.9 1368.3,1099.6 C1378.3,1092.3 1384.9,1083.8 1388.2,1080.6" stroke-width="2.99"/>
<path d="M1064.0,1324.0 C1074.8,1324.7 1109.8,1327.2 1128.9,1328.0 C1148.0,1328.9 1162.1,1329.7 1178.8,1329.0 C1195.4,1328.4 1212.0,1327.4 1228.6,1324.0 C1245.3,1320.7 1263.5,1314.9 1278.5,1309.1 C1293.5,1303.3 1306.8,1296.6 1318.4,1289.1 C1330.0,1281.6 1339.4,1274.6 1348.3,1264.2 C1357.3,1253.8 1368.3,1233.0 1372.3,1226.8" stroke-width="2.99"/>
<path d="M1388.2,1080.6 C1389.2,1079.5 1390.1,1075.2 1394.2,1073.7 C1398.4,1072.2 1407.1,1071.7 1413.2,1071.7 C1419.2,1071.7 1427.7,1073.3 1430.6,1073.7" stroke-width="2.76"/>
<path d="M1430.6,1073.7 L1434.1,1080.6 L1333.4,1453.7 L1313.4,1471.2" stroke-width="2.99"/>
<path d="M1413.2,1083.6 L1370.8,1229.3" stroke-width="2.07"/>
<path d="M1106.4,1155.5 C1107.0,1152.4 1107.8,1142.8 1109.9,1137.0 C1112.0,1131.2 1114.1,1124.3 1118.9,1120.5 C1123.7,1116.8 1128.9,1116.0 1138.9,1114.6 C1148.8,1113.2 1165.5,1112.1 1178.8,1112.1 C1192.1,1112.1 1207.0,1112.9 1218.7,1114.6 C1230.3,1116.2 1241.5,1118.7 1248.6,1122.0 C1255.6,1125.4 1258.1,1130.6 1261.0,1134.5 C1264.0,1138.4 1265.2,1143.7 1266.0,1145.5" stroke-width="2.99"/>
<path d="M1250.6,1120.0 C1251.4,1117.7 1253.3,1110.6 1255.3,1105.8 C1257.3,1101.1 1259.3,1096.7 1262.4,1091.6 C1265.6,1086.5 1270.3,1080.6 1274.3,1075.1 C1278.2,1069.5 1283.0,1064.0 1286.1,1058.5 C1289.3,1052.9 1289.7,1047.8 1293.2,1041.9 C1296.8,1036.0 1302.3,1028.3 1307.4,1022.9 C1312.6,1017.6 1319.3,1012.6 1324.0,1009.9 C1328.8,1007.1 1333.9,1006.9 1335.9,1006.3" stroke-width="2.99"/>
<path d="M1335.9,1003.8 L1335.9,999.9 L1375.8,1003.8 L1375.8,1007.3" stroke-width="2.76"/>
<path d="M1375.8,1005.8 C1379.5,1009.8 1391.6,1022.3 1398.2,1029.8 C1404.9,1037.3 1410.8,1044.9 1415.7,1050.7 C1420.5,1056.5 1424.6,1061.1 1427.1,1064.7 C1429.6,1068.3 1430.0,1070.9 1430.6,1072.2" stroke-width="2.76"/>
<path d="M1046.6,1408.8 C1052.0,1409.2 1065.3,1410.9 1079.0,1411.3 C1092.7,1411.7 1112.3,1412.2 1128.9,1411.3 C1145.5,1410.5 1162.1,1409.2 1178.8,1406.3 C1195.4,1403.4 1212.0,1400.1 1228.6,1393.9 C1245.3,1387.6 1266.5,1377.7 1278.5,1368.9 C1290.6,1360.2 1295.5,1353.1 1300.9,1341.5 C1306.4,1329.9 1309.3,1306.2 1310.9,1299.1" stroke-width="2.76"/>
<path d="M1049.1,1421.3 C1062.4,1421.0 1107.3,1421.0 1128.9,1419.8 C1150.5,1418.6 1162.1,1417.3 1178.8,1413.8 C1195.4,1410.3 1213.7,1404.7 1228.6,1398.9 C1243.6,1393.0 1257.7,1386.4 1268.5,1378.9 C1279.3,1371.4 1289.3,1358.1 1293.5,1354.0" stroke-width="2.76"/>
<path d="M1046.6,1408.8 L1049.1,1421.3" stroke-width="2.76"/>
<path d="M1079.0,1411.3 L1081.5,1423.8" stroke-width="2.3"/>
<path d="M1126.4,1411.3 L1127.9,1421.3" stroke-width="2.3"/>
<path d="M1178.8,1406.3 L1180.2,1416.3" stroke-width="2.3"/>
<path d="M1214.7,1396.4 L1216.2,1402.8" stroke-width="2.3"/>
<path d="M1091.5,1426.3 L1091.5,1441.2 L1313.4,1471.2" stroke-width="2.76"/>
<path d="M1061.5,1427.8 L1061.5,1438.8" stroke-width="2.3"/>
<path d="M1064,1329.5 L1047,1401.3 L1048.4,1420.9" stroke-width="2.99"/>
<path d="M1045,1322 L1062,1318 L1063,1330 L1050,1334 Z" fill="#1c1c1c" stroke="#1c1c1c" stroke-width="2"/>
<path d="M1056,1195 L1060,1192 M1063,1195 L1066,1192" stroke-width="2.3"/>
<circle cx="1046.6" cy="1264.2" r="59.9" stroke-width="1.8"/>
<path d="M1060.0,1234.3 L1076.5,1234.3" stroke-width="4.6"/>
<path d="M1060.0,1289.1 L1074.0,1289.1" stroke-width="4.6"/>
<path d="M1053.1,1196.9 L1051.1,1331.5" stroke-width="2.99"/>
<path d="M979.3,1108.6 L1021.6,1108.6 L1046.6,1149.5" stroke-width="1.84"/>
<path d="M722.4,1114.6 L787.2,1114.6 L854.6,1204.3" stroke-width="1.84"/>
<path d="M1261.0,1253.2 L1403.2,1328.0 L1450.6,1328.0" stroke-width="1.84"/>
<path d="M1325.9,1079.7 L1448.1,983.9 L1480.0,983.9" stroke-width="1.84"/>
<path d="M1448,983.9 H1470" stroke-width="1.84"/>
<path d="M469.3,1456.8 L1029.1,1209.3" stroke-width="1.49"/>
<path d="M630.2,1722.4 L1059,1334" stroke-width="1.49"/>
</g>
<circle cx="854.6" cy="1204.3" r="2.4" fill="#1c1c1c" stroke="none"/>
<circle cx="1261.0" cy="1253.2" r="2.4" fill="#1c1c1c" stroke="none"/>
<circle cx="1325.9" cy="1079.7" r="2.4" fill="#1c1c1c" stroke="none"/>
<circle cx="1027.6" cy="1234.3" r="5.0" fill="#1c1c1c" stroke="none"/>
<circle cx="1025.1" cy="1291.6" r="5.0" fill="#1c1c1c" stroke="none"/>
<circle cx="1051.6" cy="1329.0" r="4.0" fill="#1c1c1c" stroke="none"/>
<g fill="#1c1c1c">
<text x="738.5" y="1107.1" font-size="44">5</text>
<text x="1421.5" y="1321.5" font-size="50">7</text>
<text x="1468" y="974" font-size="44">5</text>
<text x="984" y="1094" font-size="30" font-style="italic" font-weight="bold">2</text>
</g>
<g fill="none" stroke="#1c1c1c" stroke-linejoin="round" stroke-linecap="round">
<ellipse cx="519" cy="1611.2" rx="161.5" ry="158" stroke-width="2.6"/>
<path d="M398.3,1508.4 L516.1,1511.1" stroke-width="2.99"/>
<path d="M532.9,1511.1 L648.9,1512.2" stroke-width="2.99"/>
<path d="M411.3,1722.4 L516.1,1728.0" stroke-width="2.99"/>
<path d="M531.1,1729.1 L619.0,1731.8" stroke-width="2.99"/>
<path d="M518.0,1767.3 L518.0,1488.6 L532.2,1488.6 L531.1,1767.3" stroke-width="2.99"/>
<path d="M540.4,1512.9 L538.5,1726.1" stroke-width="2.99"/>
<path d="M518.0,1562.3 A9,10 0 0 0 518.0,1583.2" stroke-width="2.99"/>
<path d="M541.2,1567.2 L547.9,1567.2 L547.9,1578.4 L541.2,1578.4" stroke-width="2.76"/>
<path d="M547.9,1572.8 L561.0,1572.8" stroke-width="4.6"/>
<path d="M518.0,1670.8 A9,10 0 0 0 518.0,1691.7" stroke-width="2.99"/>
<path d="M541.2,1675.6 L547.9,1675.6 L547.9,1686.9 L541.2,1686.9" stroke-width="2.76"/>
<path d="M547.9,1681.3 L561.0,1681.3" stroke-width="4.6"/>
<path d="M411.3,1643.8 L289.8,1748.6 L258.0,1748.6" stroke-width="2.07"/>
<path d="M607.7,1649.5 L690.0,1761.7 L740.5,1761.7" stroke-width="2.07"/>
<path d="M354.9,1808.1 H458.9 L521.7,1750.5" stroke-width="2.07"/>
<path d="M521.7,1748.6 L522.4,1757.9" stroke-width="3.45"/>
</g>
<circle cx="411.3" cy="1643.8" r="2.6" fill="#1c1c1c" stroke="none"/>
<circle cx="607.7" cy="1649.5" r="2.6" fill="#1c1c1c" stroke="none"/>
<g fill="#1c1c1c">
<text x="244.5" y="1735.5" font-size="47">5</text>
<text x="711.5" y="1758" font-size="50">7</text>
<text x="389" y="1797" font-size="34" font-style="italic" font-weight="bold">2</text>
</g>
<g font-family='"Liberation Sans", sans-serif' fill="#262626">
<text x="-4.2" y="51" font-size="56.3">Рис.4</text>
<text x="0" y="0" font-size="57" transform="translate(173 53) scale(1.14 1)" stroke="#fff" stroke-width="1.6">Схема сборки углового дивана</text>
<text x="1404" y="42" font-size="50.5">Рис.5</text>
<text x="0" y="0" font-size="57" transform="translate(1558.5 41) scale(0.92 1)">Крепление карточных петель.</text>
<text x="45.5" y="907" font-size="43.5">Рис.6</text>
<text x="0" y="0" font-size="36" transform="translate(183.5 885.5) scale(0.964 1)">Крепление сегмента углового</text>
<text x="0" y="0" font-size="36" transform="translate(183.5 926.5) scale(0.963 1)">мягкого к сегменту угловому ЛДСП.</text>
<text x="1614" y="1015.5" font-size="46.5">Рис.7</text>
<text x="0" y="0" font-size="48" transform="translate(1754 1015.5) scale(0.985 1)">Крепление полуноги.</text>
<text x="911" y="1792" font-size="51.5" font-weight="bold">Порядок сборки.</text>
<text x="69.5" y="1866.5" font-size="51.5" font-weight="bold">Сборка стола.</text>
<text x="74.5" y="2318.5" font-size="51.5" font-weight="bold">Сборка табурета.</text>
<text x="70" y="2576" font-size="51.5" font-weight="bold">Сборка угловой скамьи.</text>
<text x="0" y="1914.8" font-size="45.9">1) К стойкам (16) с помощью саморезов 4х32 крепим подпятники из МДФ.</text>
<text x="0" y="1966.0" font-size="45.9">2) Между стоек закрепляем царгу (17) с помощью евровинтов.</text>
<text x="0" y="2017.2" font-size="45.9">3) К верхней части полуноги (17) присоединяем саморезами 4х16 опору регулируемую, вставив в</text>
<text x="0" y="2068.4" font-size="45.9">торцевое отверстие резьбовую часть опоры см. рис. 7.</text>
<text x="0" y="2119.6" font-size="45.9">4) Полуногу присоединяем к ноге стола с помощью карточных петель и саморезов 4х16.</text>
<text x="0" y="2170.8" font-size="45.9">5) Соединяем столешницы малую и большую с помощью саморезов 4х16 и карточных петель.</text>
<text x="0" y="2222.1" font-size="45.9">6) К столу присоединяем собранную столешницу. Удобнее это сделать следующим образом: столешницу</text>
<text x="0" y="2273.3" font-size="45.9">кладем на пол нижней стороной вверх, устанавливаем на нее собранную конструкцию и соединяем,</text>
<text x="0" y="2362.9" font-size="45.9">1) К стойкам (16) гвоздями прибиваем подпятники пластиковые.</text>
<text x="0" y="2414.2" font-size="45.9">2) Между стоек закрепляем царгу вертикальную (17) с помощью евровинтов.</text>
<text x="0" y="2465.6" font-size="45.9">3) Присоединяем царгу горизонтальную (18) евровинтами.</text>
<text x="0" y="2517.0" font-size="45.9">4) К царге горизонтальной присоединяем сиденье мягкое (15) саморезами 4х32.</text>
<text x="0" y="2630.0" font-size="45.9">1) К стойкам (1,2) с помощью саморезов 4х32 крепим подпятники из МДФ.</text>
<text x="0" y="2681.3" font-size="45.9">2) Между стоек фасадной и внутренней закрепляем царги (3,4) с помощью евровинтов.</text>
<text x="0" y="2732.7" font-size="45.9">3) К царгам прибиваем дно (9) гвоздями.</text>
<text x="0" y="2784.1" font-size="45.9">4) К задним царгам (3) и (4) саморезами 4х16 с наружной стороны крепятся петли карточные. К петлям</text>
<text x="0" y="2835.4" font-size="45.9">крепятся сиденья саморезами 4х16 см. рис 5.</text>
<text x="0" y="2886.8" font-size="45.9">5) К стойкам (1) и (2) крепятся спинки (5) угловыми стяжками.</text>
<text x="0" y="2938.1" font-size="45.9">6) К основанию мягкому угловому (6) прикручиваем угловые стяжки. Присоединяем основание угловое (6)</text>
<text x="0" y="2989.4" font-size="45.9">к внутренним стойкам (2).</text>
<text x="0" y="3040.8" font-size="45.9">7) К сегменту угловому мягкому (7) крепим сверху сегмент угловой ЛДСП (8) с помощью саморезов 4х25</text>
<text x="0" y="3092.2" font-size="45.9">см рис.6. Саморезы вкручиваем со стороны мягкого сегмента.</text>
<text x="0" y="3143.5" font-size="45.9">8) Устанавливаем собранный сегмент угловой между стойками внутренними и крепим к ним болтами</text>
<text x="0" y="3194.8" font-size="45.9">6х50, гайками, шайбами.</text>
<text x="0" y="3246.2" font-size="45.9">9) Видимые шляпки евровинтов закрываем заглушками.</text>
</g>
</svg>
</body></html>
